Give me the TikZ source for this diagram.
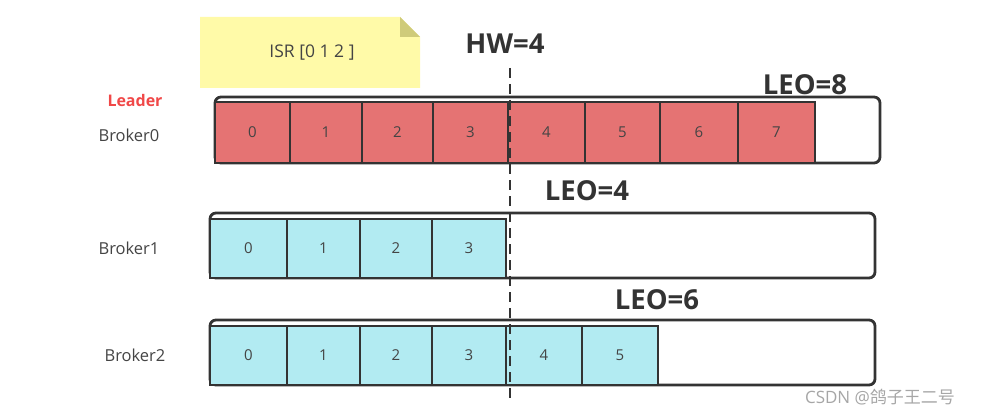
\documentclass[tikz,border=0pt]{standalone}
\usepackage{fontspec}
\setmainfont{Open Sans}
\newfontfamily\cjk{Noto Sans CJK SC}
\definecolor{cellred}{HTML}{E57373}
\definecolor{cellcyan}{HTML}{B2EBF2}
\definecolor{edge}{HTML}{333333}
\definecolor{notey}{HTML}{FFFAA8}
\definecolor{notefold}{HTML}{CFCB7A}
\definecolor{txt}{HTML}{444444}
\definecolor{leadred}{HTML}{F04848}
\begin{document}
\begin{tikzpicture}[x=1pt,y=-1pt,
  outerbox/.style={draw=edge,line width=2.8pt,rounded corners=6pt,fill=white},
  cellbox/.style={draw=edge,line width=2.8pt},
  redcell/.style={cellbox,fill=cellred},
  cyancell/.style={cellbox,fill=cellcyan},
  num/.style={text=txt,font=\fontsize{15}{18}\selectfont},
  lbl/.style={text=txt,font=\fontsize{16.5}{20}\selectfont},
  big/.style={text=edge,font=\fontsize{27.5}{32}\selectfont\bfseries}]
\useasboundingbox (0,0) rectangle (984,414);
% note
\fill[notey] (200,17) -- (400,17) -- (420,37) -- (420,88) -- (200,88) -- cycle;
\fill[notefold] (400,17) -- (420,37) -- (400,37) -- cycle;
\node[lbl,font=\fontsize{17.5}{20}\selectfont] (isr) at (312,53) {ISR [0 1 2 ]};
% HW
\node[big] (hw) at (505,44) {HW=4};
% Broker0
\node[outerbox,minimum width=665pt,minimum height=66pt,inner sep=0pt] (b0) at (547.5,130) {};
\foreach \a/\b/\n in {215/290/0,290/362/1,362/433/2,433/508/3,508/585/4,585/660/5,660/738/6,738/815/7}{
  \draw[redcell] (\a,102) rectangle (\b,163);
  \node[num] (c0\n) at ({(\a+\b)/2},132.5) {\n};
}
\node[font=\fontsize{16}{19}\selectfont\bfseries,text=leadred] (leader) at (135,101) {Leader};
\node[lbl] (l0) at (129,135) {Broker0};
\node[big] (leo8) at (805,85) {LEO=8};
% Broker1
\node[outerbox,minimum width=665pt,minimum height=65pt,inner sep=0pt] (b1) at (542.5,245.5) {};
\foreach \a/\b/\n in {210/287/0,287/360/1,360/432/2,432/506/3}{
  \draw[cyancell] (\a,219) rectangle (\b,278);
  \node[num] (c1\n) at ({(\a+\b)/2},248.5) {\n};
}
\node[lbl] (l1) at (129,248) {Broker1};
\node[big] (leo4) at (587,191) {LEO=4};
% Broker2
\node[outerbox,minimum width=665pt,minimum height=65pt,inner sep=0pt] (b2) at (542.5,352.5) {};
\foreach \a/\b/\n in {210/287/0,287/360/1,360/432/2,432/506/3,506/582/4,582/658/5}{
  \draw[cyancell] (\a,326) rectangle (\b,385);
  \node[num] (c2\n) at ({(\a+\b)/2},355.5) {\n};
}
\node[lbl] (l2) at (135,355) {Broker2};
\node[big] (leo6) at (657,300) {LEO=6};
% HW dashed line
\coordinate (hwtop) at (510,68);
\coordinate (hwbot) at (510,400);
\draw[edge,line width=2.6pt,dash pattern=on 10pt off 6pt] (hwtop) -- (hwbot);
% watermark
\node[text=gray!70,font=\fontsize{17}{19}\selectfont] (wm) at (880,397) {CSDN @{\cjk 鸽子王二号}};
\end{tikzpicture}
\end{document}
